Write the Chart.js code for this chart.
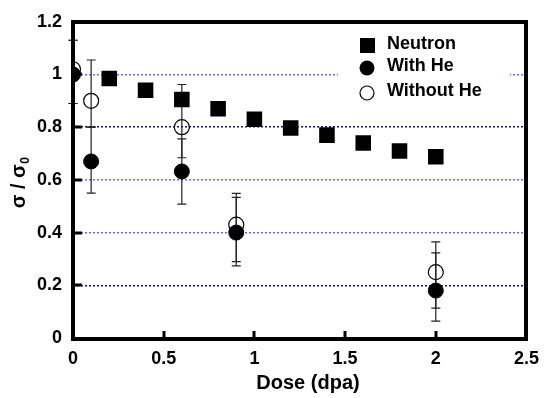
<!DOCTYPE html>
<html>
<head>
<meta charset="utf-8">
<title>Sigma ratio vs dose</title>
<script src="https://cdn.jsdelivr.net/npm/chart.js@4"></script>
<style>
  body { margin: 0; background: #fff; }
  canvas { display: block; }
</style>
</head>
<body>
<canvas id="chart" width="549" height="398"></canvas>
<script>
// values
const neutronDose = [0.2, 0.4, 0.6, 0.8, 1.0, 1.2, 1.4, 1.6, 1.8, 2.0];
const neutronSigma = [0.985, 0.94, 0.905, 0.87, 0.83, 0.797, 0.77, 0.74, 0.71, 0.688];

const heDose = [0, 0.1, 0.6, 0.9, 2.0];
const withHe = [1.0, 0.67, 0.632, 0.40, 0.18];
const withHeLow = [0.89, 0.55, 0.508, 0.274, 0.064];
const withHeHigh = [1.13, 0.80, 0.756, 0.534, 0.323];
const withoutHe = [1.02, 0.90, 0.80, 0.43, 0.25];
const withoutHeLow = [0.89, 0.80, 0.684, 0.29, 0.113];
const withoutHeHigh = [1.13, 1.055, 0.962, 0.549, 0.365];

const xTicks = ['0', '0.5', '1', '1.5', '2', '2.5'];
const yTicks = ['0', '0.2', '0.4', '0.6', '0.8', '1', '1.2'];
const legendLabels = ['Neutron', 'With He', 'Without He'];

const FONT = 'Liberation Sans, Arial, sans-serif';

function pts(xs, ys) {
    return xs.map((x, i) => ({ x: x, y: ys[i] }));
}

// grid colours alternate like the original figure
function gridColor(ctx) {
    const v = Math.round(ctx.tick.value * 10) / 10;
    if (v === 0 || v === 1.2) return 'rgba(0,0,0,0)';
    if (v === 0.8 || v === 0.2) return '#14146e';
    return '#6b6be6';
}

// error bars under the points; frame, ticks, legend and titles on top
const decor = {
    id: 'decor',
    beforeDatasetsDraw(chart) {
        const ctx = chart.ctx;
        const xs = chart.scales.x, ys = chart.scales.y;
        ctx.save();
        ctx.setLineDash([]);
        ctx.strokeStyle = '#222';
        ctx.lineWidth = 1.2;
        const bars = [[withHeLow, withHeHigh], [withoutHeLow, withoutHeHigh]];
        bars.forEach(([lo, hi]) => {
            heDose.forEach((d, i) => {
                const px = xs.getPixelForValue(d);
                const y1 = ys.getPixelForValue(lo[i]);
                const y2 = ys.getPixelForValue(hi[i]);
                ctx.beginPath();
                ctx.moveTo(px, y1); ctx.lineTo(px, y2);
                ctx.moveTo(px - 4.5, y1); ctx.lineTo(px + 4.5, y1);
                ctx.moveTo(px - 4.5, y2); ctx.lineTo(px + 4.5, y2);
                ctx.stroke();
            });
        });
        ctx.restore();
    },
    afterDraw(chart) {
        const ctx = chart.ctx;
        const a = chart.chartArea;
        const xs = chart.scales.x, ys = chart.scales.y;
        ctx.save();
        ctx.setLineDash([]);
        ctx.fillStyle = '#000';

        // thick frame all round
        const L = Math.round(a.left), R = Math.round(a.right);
        const T = Math.round(a.top), B = Math.round(a.bottom);
        ctx.fillRect(L - 2, T - 2, R - L + 4, 4);
        ctx.fillRect(L - 2, B - 1, R - L + 4, 4);
        ctx.fillRect(L - 2, T - 2, 4, B - T + 5);
        ctx.fillRect(R - 2, T - 2, 4, B - T + 5);

        // inner tick marks
        [0.2, 0.4, 0.6, 0.8, 1.0].forEach(v => {
            const py = Math.round(ys.getPixelForValue(v));
            ctx.fillRect(L, py - 1.5, 9, 3);
        });
        [0.5, 1.0, 1.5, 2.0].forEach(v => {
            const px = Math.round(xs.getPixelForValue(v));
            ctx.fillRect(px - 1.5, B - 7, 3, 7);
        });

        // legend box (white, hides the grid line behind it)
        ctx.fillStyle = '#fff';
        ctx.fillRect(338, 31, 172, 73);
        ctx.fillStyle = '#000';
        ctx.fillRect(360, 38, 15, 15);
        ctx.beginPath();
        ctx.arc(367, 68, 7.5, 0, Math.PI * 2);
        ctx.fill();
        ctx.strokeStyle = '#000';
        ctx.lineWidth = 1.2;
        ctx.beginPath();
        ctx.arc(367, 93, 7, 0, Math.PI * 2);
        ctx.stroke();
        ctx.font = 'bold 18px ' + FONT;
        ctx.textBaseline = 'middle';
        ctx.textAlign = 'left';
        ctx.fillText(legendLabels[0], 387, 44);
        ctx.fillText(legendLabels[1], 387, 66);
        ctx.fillText(legendLabels[2], 387, 91);

        // x title
        ctx.textAlign = 'center';
        ctx.font = 'bold 20px ' + FONT;
        ctx.fillText('Dose (dpa)', 308, 383);

        // y title with subscript
        ctx.translate(25, 183);
        ctx.rotate(-Math.PI / 2);
        ctx.textAlign = 'left';
        ctx.textBaseline = 'alphabetic';
        ctx.font = 'bold 20px ' + FONT;
        const main = 'σ / σ';
        const w = ctx.measureText(main).width;
        ctx.font = 'bold 12px ' + FONT;
        const sw = ctx.measureText('0').width;
        const start = -(w + sw) / 2;
        ctx.font = 'bold 20px ' + FONT;
        ctx.fillText(main, start, 0);
        ctx.font = 'bold 12px ' + FONT;
        ctx.fillText('0', start + w + 0.5, 4);
        ctx.restore();
    }
};

new Chart(document.getElementById('chart'), {
    type: 'scatter',
    data: {
        datasets: [{
            label: legendLabels[0],
            data: pts(neutronDose, neutronSigma),
            pointStyle: 'rect',
            pointRadius: 11,
            backgroundColor: '#000',
            borderColor: '#000',
            borderWidth: 0
        }, {
            label: legendLabels[1],
            data: pts(heDose, withHe),
            pointStyle: 'circle',
            pointRadius: 7.5,
            backgroundColor: '#000',
            borderColor: '#000',
            borderWidth: 1
        }, {
            label: legendLabels[2],
            data: pts(heDose, withoutHe),
            pointStyle: 'circle',
            pointRadius: 7.5,
            backgroundColor: 'rgba(0,0,0,0)',
            borderColor: '#000',
            borderWidth: 1.2
        }]
    },
    options: {
        responsive: false,
        animation: false,
        events: [],
        layout: { padding: { top: 19, right: 16, left: 0, bottom: 0 } },
        plugins: {
            legend: { display: false },
            tooltip: { enabled: false }
        },
        scales: {
            x: {
                type: 'linear',
                min: 0,
                max: 2.5,
                afterFit: s => { s.height = 60; },
                grid: { display: false, drawTicks: false },
                border: { display: false },
                ticks: {
                    stepSize: 0.5,
                    padding: 10,
                    color: '#000',
                    font: { family: FONT, size: 18, weight: 'bold' },
                    callback: (v, i) => xTicks[i]
                }
            },
            y: {
                min: 0,
                max: 1.2,
                afterFit: s => { s.width = 73; },
                grid: {
                    color: gridColor,
                    lineWidth: 1.5,
                    drawTicks: false
                },
                border: { display: false, dash: [2, 2] },
                ticks: {
                    stepSize: 0.2,
                    padding: 11,
                    color: '#000',
                    font: { family: FONT, size: 18, weight: 'bold' },
                    callback: (v, i) => yTicks[i]
                }
            }
        }
    },
    plugins: [decor]
});
</script>
</body>
</html>
